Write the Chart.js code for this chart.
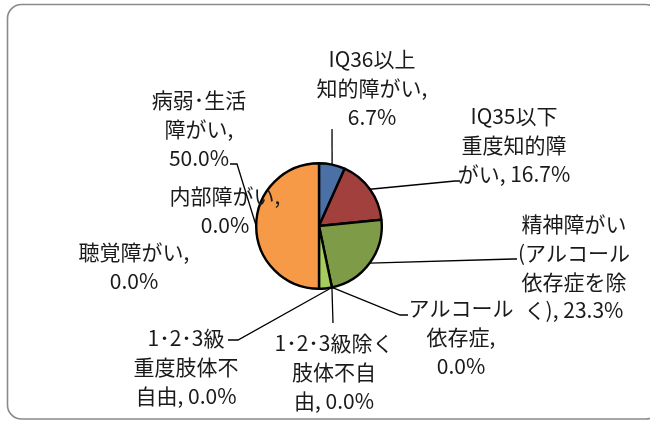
<!DOCTYPE html>
<html>
<head>
<meta charset="utf-8">
<script src="https://cdn.jsdelivr.net/npm/chart.js@4/dist/chart.umd.min.js"></script>
<style>
  html, body { margin: 0; padding: 0; background: #fff; }
  canvas { display: block; }
</style>
</head>
<body>
<canvas id="pie" width="650" height="421"></canvas>
<script>
// slice names, clockwise from 12 o'clock (the light green slice has no label in the original)
const categories = [
  "IQ36以上知的障がい",
  "IQ35以下重度知的障がい",
  "精神障がい(アルコール依存症を除く)",
  "アルコール依存症",
  "1･2･3級除く肢体不自由",
  "1･2･3級重度肢体不自由",
  "",
  "聴覚障がい",
  "内部障がい",
  "病弱･生活障がい",
];
const values = [6.7, 16.7, 23.3, 0.0, 0.0, 0.0, 3.3, 0.0, 0.0, 50.0];
const colors = ["#4a70a6", "#a2403d", "#7e9c47", "#8064a2", "#4bacc6", "#c0504d",
                "#a4cc5f", "#4f81bd", "#9bbb59", "#f79a48"];

// label layout: chunk sizes for line wrapping, text centre, first line y, leader end points
const labelLayout = [
  { wrap: [6, 6], x: 372, y: 59, leader: [[332, 129]] },
  { wrap: [6, 5], x: 514, y: 116, leader: [[455, 181], [460, 181]] },
  { wrap: [5, 6, 5], x: 574, y: 224, leader: [[513, 259], [517, 259]] },
  { wrap: [5, 4], x: 461, y: 308, leader: [[400, 315], [408, 315]] },
  { wrap: [8, 4], x: 334, y: 343, leader: [[333, 323]] },
  { wrap: [6, 5], x: 186, y: 338, leader: [[238, 340], [228, 340]] },
  null,
  { wrap: [6], x: 134, y: 252, leader: null },
  { wrap: [6], x: 225, y: 196, leader: null },
  { wrap: [5, 4], x: 199, y: 100, leader: [[237, 164], [230, 164]] },
];

function wrapText(str, sizes) {
  const lines = [];
  let pos = 0;
  for (const n of sizes) {
    lines.push(str.slice(pos, pos + n).trim());
    pos += n;
  }
  lines.push(str.slice(pos).trim());
  return lines.filter(l => l.length);
}

const frame = {
  id: "frame",
  beforeDraw(chart) {
    const ctx = chart.ctx;
    ctx.save();
    ctx.fillStyle = "#fff";
    ctx.fillRect(0, 0, chart.width, chart.height);
    ctx.strokeStyle = "#8a8a8a";
    ctx.lineWidth = 1.6;
    ctx.beginPath();
    ctx.roundRect(7.5, 4.5, 652, 414.5, 14);
    ctx.stroke();
    ctx.restore();
  },
};

const outsideLabels = {
  id: "outsideLabels",
  afterDatasetsDraw(chart) {
    const ctx = chart.ctx;
    const arcs = chart.getDatasetMeta(0).data;
    ctx.save();
    ctx.font = '21px "Noto Sans CJK JP"';
    ctx.fillStyle = "#1a1a1a";
    ctx.textAlign = "center";
    ctx.textBaseline = "middle";
    arcs.forEach((arc, i) => {
      const lay = labelLayout[i];
      if (!lay) return;
      const { x, y, startAngle, endAngle, outerRadius } = arc.getProps(["x", "y", "startAngle", "endAngle", "outerRadius"], true);
      const mid = (startAngle + endAngle) / 2;
      if (lay.leader) {
        ctx.strokeStyle = "#000";
        ctx.lineWidth = 1.3;
        ctx.beginPath();
        ctx.moveTo(x + Math.cos(mid) * outerRadius, y + Math.sin(mid) * outerRadius);
        lay.leader.forEach(p => ctx.lineTo(p[0], p[1]));
        ctx.stroke();
      }
      const text = `${categories[i]}, ${values[i].toFixed(1)}%`;
      wrapText(text, lay.wrap).forEach((line, k) => {
        ctx.fillText(line, lay.x, lay.y + k * 28.8);
      });
    });
    ctx.restore();
  },
};

new Chart(document.getElementById("pie"), {
  type: "pie",
  data: {
    labels: categories,
    datasets: [{
      data: values,
      backgroundColor: colors,
      borderColor: "#000",
      borderWidth: 2.4,
    }],
  },
  options: {
    responsive: false,
    animation: false,
    devicePixelRatio: 1,
    layout: { padding: { left: 255, right: 267, top: 162, bottom: 131 } },
    plugins: { legend: { display: false }, tooltip: { enabled: false } },
  },
  plugins: [frame, outsideLabels],
});
</script>
</body>
</html>
